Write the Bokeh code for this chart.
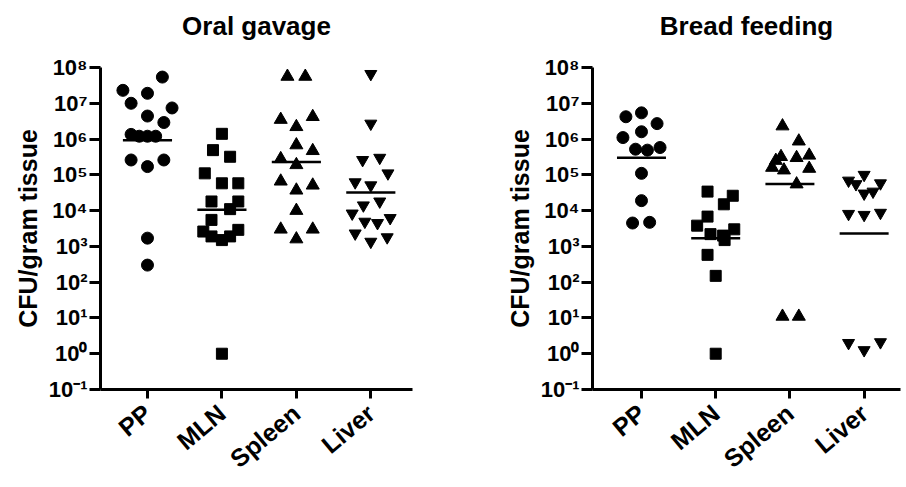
import math
from bokeh.plotting import figure
from bokeh.layouts import row
from bokeh.models import FixedTicker, CustomJSTickFormatter, ColumnDataSource, Title
from bokeh.embed import file_html
from bokeh.resources import INLINE

# ---------------- data ----------------
categories = ["PP", "MLN", "Spleen", "Liver"]
y_ticks = [0.1, 1, 10, 1e2, 1e3, 1e4, 1e5, 1e6, 1e7, 1e8]

# Oral gavage (CFU/gram tissue)
oral_pp = [5.4e7, 2.3e7, 1.9e7, 1.0e7, 7.4e6, 4.4e6, 2.9e6, 1.35e6, 1.2e6, 1.2e6, 1.2e6,
           2.6e5, 1.7e5, 2.6e5, 1.7e3, 300]
oral_pp_jit = [0.20, -0.33, 0.0, -0.22, 0.33, 0.0, 0.22, -0.22, -0.11, 0.0, 0.11,
               -0.22, 0.0, 0.22, 0.0, 0.0]
oral_mln = [1.4e6, 4.9e5, 3.2e5, 1.1e5, 5.8e4, 5.8e4, 1.8e4, 1.8e4, 1.1e4, 5.5e3,
            2.6e3, 1.9e3, 1.5e3, 1.9e3, 2.9e3, 1]
oral_mln_jit = [0.0, -0.12, 0.11, -0.23, 0.0, 0.22, -0.14, 0.22, 0.11, -0.14,
                -0.25, -0.14, 0.0, 0.11, 0.22, 0.0]
oral_spleen = [5.6e7, 5.6e7, 3.5e6, 4.2e6, 2.2e6, 6.8e5, 4.7e5, 2.8e5, 1.9e5, 6.6e4,
               3.7e4, 5.1e4, 1.0e4, 3.0e3, 1.6e3, 3.0e3]
oral_spleen_jit = [-0.12, 0.12, -0.21, 0.22, 0.0, 0.0, 0.22, -0.21, 0.0, -0.21,
                   0.0, 0.22, 0.0, -0.21, 0.0, 0.22]
oral_liver = [6.6e7, 2.7e6, 2.6e5, 3.0e5, 1.1e5, 6.2e4, 5.1e4, 1.4e4, 1.8e4, 8.3e3,
              4.9e3, 4.5e3, 6.2e3, 2.3e3, 1.35e3, 1.8e3]
oral_liver_jit = [0.0, 0.0, -0.11, 0.12, 0.23, -0.21, 0.0, -0.10, 0.12, -0.25,
                  -0.08, 0.09, 0.26, -0.21, 0.0, 0.22]
oral_means = [9.3e5, 1.05e4, 2.3e5, 3.2e4]

# Bread feeding (CFU/gram tissue)
bread_pp = [4.2e6, 5.4e6, 2.7e6, 1.6e6, 1.1e6, 5.2e5, 4.9e5, 5.8e5, 1.1e5, 1.9e4, 4.5e3, 4.7e3]
bread_pp_jit = [-0.21, 0.0, 0.21, 0.0, -0.25, -0.08, 0.08, 0.25, 0.0, 0.0, -0.12, 0.11]
bread_mln = [3.4e4, 2.6e4, 1.5e4, 6.8e3, 3.8e3, 2.2e3, 2.0e3, 3.0e3, 1.5e3, 580, 150, 1]
bread_mln_jit = [-0.11, 0.23, 0.11, -0.11, -0.25, -0.07, 0.10, 0.25, 0.12, -0.11, 0.0, 0.0]
bread_spleen = [2.3e6, 8.7e5, 3.2e5, 3.0e5, 3.5e5, 1.6e5, 1.35e5, 1.5e5, 5.5e4, 11, 11, 2.5e5]
bread_spleen_jit = [-0.10, 0.12, -0.12, 0.09, 0.26, -0.24, -0.08, 0.26, 0.09, -0.10, 0.12, -0.19]
bread_liver = [6.9e4, 1.0e5, 5.5e4, 5.8e4, 3.0e4, 3.4e4, 8.1e3, 7.6e3, 8.7e3, 2.0, 1.26, 2.1]
bread_liver_jit = [-0.21, 0.0, -0.11, 0.22, 0.0, 0.12, -0.21, 0.0, 0.22, -0.21, 0.0, 0.22]
bread_means = [3.0e5, 1.7e3, 5.5e4, 2.3e3]

markers = ["circle", "square", "triangle", "inverted_triangle"]
marker_sizes = [12, 11, 13, 12]

FONT = "Liberation Sans"

sup_fmt = CustomJSTickFormatter(code="""
const e = Math.round(Math.log10(tick));
const sup = {'-':'\u207b','0':'\u2070','1':'\u00b9','2':'\u00b2','3':'\u00b3','4':'\u2074',
             '5':'\u2075','6':'\u2076','7':'\u2077','8':'\u2078','9':'\u2079'};
return '10' + String(e).split('').map(c => sup[c]).join('');
""")


def make_panel(title, series, jitters, means, x_start, x_end, width, border_left, border_right):
    p = figure(width=width, height=486, x_range=(x_start, x_end), y_range=(0.1, 1e8),
               y_axis_type="log", output_backend="svg", toolbar_location=None,
               min_border_left=border_left, min_border_right=border_right,
               min_border_top=67, min_border_bottom=96)
    p.outline_line_color = None
    p.grid.visible = False
    p.background_fill_color = "white"
    p.border_fill_color = "white"

    # main title, lifted by an empty spacer title placed next to the frame
    p.title.text = title
    p.title.align = "center"
    p.title.text_font = FONT
    p.title.text_font_size = "26px"
    p.title.text_font_style = "bold"
    p.title.text_color = "black"
    p.title.standoff = 4
    p.add_layout(Title(text=" ", text_font_size="10px", standoff=12), "above")

    for ax in p.axis:
        ax.axis_line_width = 3
        ax.axis_line_color = "black"
        ax.major_tick_line_width = 3
        ax.major_tick_line_color = "black"
        ax.major_tick_out = 11
        ax.major_tick_in = 0
        ax.minor_tick_out = 0
        ax.minor_tick_in = 0
        ax.minor_tick_line_color = None
        ax.major_label_text_font = FONT
        ax.major_label_text_font_style = "bold"
        ax.major_label_text_color = "black"

    p.yaxis.ticker = FixedTicker(ticks=y_ticks, minor_ticks=[])
    p.yaxis.formatter = sup_fmt
    p.yaxis.major_label_text_font_size = "22px"
    p.yaxis.major_label_standoff = 2
    p.yaxis.axis_label = "CFU/gram tissue"
    p.yaxis.axis_label_text_font = FONT
    p.yaxis.axis_label_text_font_size = "25px"
    p.yaxis.axis_label_text_font_style = "bold"
    p.yaxis.axis_label_text_color = "black"
    p.yaxis.axis_label_standoff = 4

    p.xaxis.ticker = FixedTicker(ticks=[1, 2, 3, 4], minor_ticks=[])
    p.xaxis.major_tick_out = 9
    p.xaxis.major_label_overrides = {i + 1: c for i, c in enumerate(categories)}
    p.xaxis.major_label_orientation = math.radians(40)
    p.xaxis.major_label_text_font_size = "25px"
    p.xaxis.major_label_standoff = 11

    for i, (vals, jit) in enumerate(zip(series, jitters)):
        xs = [i + 1 + j for j in jit]
        p.scatter(xs, vals, marker=markers[i], size=marker_sizes[i],
                  fill_color="black", line_color="black")

    half = 0.33
    src = ColumnDataSource(dict(
        x0=[i + 1 - half for i in range(len(categories))],
        x1=[i + 1 + half for i in range(len(categories))],
        y=means))
    p.segment(x0="x0", y0="y", x1="x1", y1="y", source=src, line_width=2.5, line_color="black")
    return p


p1 = make_panel("Oral gavage",
                [oral_pp, oral_mln, oral_spleen, oral_liver],
                [oral_pp_jit, oral_mln_jit, oral_spleen_jit, oral_liver_jit],
                oral_means, 0.369, 4.56, 428, 100, 16)
p2 = make_panel("Bread feeding",
                [bread_pp, bread_mln, bread_spleen, bread_liver],
                [bread_pp_jit, bread_mln_jit, bread_spleen_jit, bread_liver_jit],
                bread_means, 0.34, 4.49, 476, 164, 4)

layout = row(p1, p2)
open("out.html", "w").write(file_html(layout, INLINE))
